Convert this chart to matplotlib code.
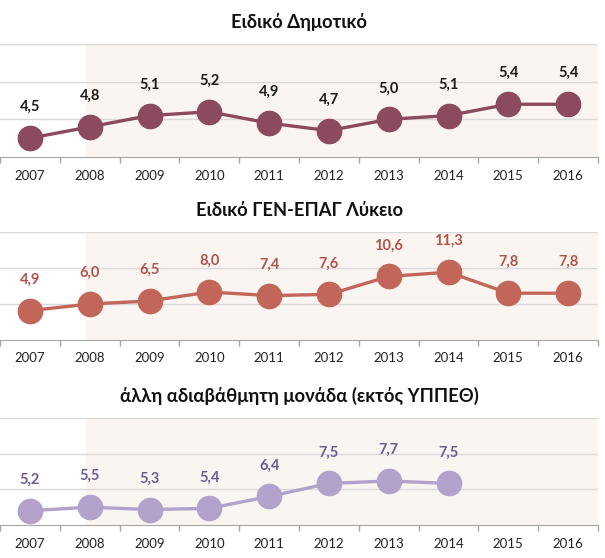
import numpy as np
import matplotlib.pyplot as plt

plt.rcParams['font.family'] = ['Lato', 'DejaVu Sans']

# Δεδομένα
years = ['2007', '2008', '2009', '2010', '2011', '2012', '2013', '2014', '2015', '2016']
dimotiko = [4.5, 4.8, 5.1, 5.2, 4.9, 4.7, 5.0, 5.1, 5.4, 5.4]
lykeio = [4.9, 6.0, 6.5, 8.0, 7.4, 7.6, 10.6, 11.3, 7.8, 7.8]
alli = [5.2, 5.5, 5.3, 5.4, 6.4, 7.5, 7.7, 7.5]

titles = ['Ειδικό Δημοτικό', 'Ειδικό ΓΕΝ-ΕΠΑΓ Λύκειο',
          'άλλη αδιαβάθμητη μονάδα (εκτός ΥΠΠΕΘ)']
series = [dimotiko, lykeio, alli]
line_colors = ['#8B4A5E', '#C3665A', '#B3A3CC']
label_colors = ['#1a1a1a', '#B0544A', '#6E5A92']
ylims = [(4, 7), (0, 18), (4, 13)]
yticks = [[4, 5, 6, 7], [0, 6, 12, 18], [4, 7, 10, 13]]

# θέσεις αξόνων σε pixel (top, bottom)
boxes = [(44, 157), (232, 340), (418, 525)]
W, H = 605, 558

fig = plt.figure(figsize=(W / 100, H / 100), dpi=100)

for k in range(3):
    top, bot = boxes[k]
    ax = fig.add_axes([0, 1 - bot / H, 598 / W, (bot - top) / H])
    vals = series[k]
    x = np.arange(len(vals))

    ax.set_xlim(-0.5, 9.5)
    ax.set_ylim(*ylims[k])

    # σκιασμένη περιοχή από 2008
    ax.axvspan(0.93, 9.5, color='#FBF5F1', zorder=0, lw=0)

    for yv in yticks[k][1:]:
        ax.axhline(yv, color='#D9D9D9', lw=1, zorder=1)

    ax.plot(x, vals, color=line_colors[k], lw=2.4, marker='o', ms=17.5,
            mec=line_colors[k], mfc=line_colors[k], zorder=3, clip_on=False)

    for xi, v in zip(x, vals):
        ax.annotate(('%.1f' % v).replace('.', ','), (xi, v), xytext=(0, 31),
                    textcoords='offset pixels', ha='center', va='center',
                    fontsize=10.5, fontweight='bold', color=label_colors[k])

    ax.set_xticks(np.arange(-0.5, 10, 1), minor=False)
    ax.set_xticklabels([])
    ax.set_xticks(np.arange(10), minor=True)
    ax.set_xticklabels(years, minor=True)
    ax.tick_params(axis='x', which='major', length=4, color='#A6A6A6', width=1)
    ax.tick_params(axis='x', which='minor', length=0, pad=9, labelsize=9.5, labelcolor='#222222')
    ax.set_yticks([])

    for s in ['left', 'right', 'top']:
        ax.spines[s].set_visible(False)
    ax.spines['bottom'].set_color('#A6A6A6')

    fig.text(0.495, 1 - (top - 22) / H, titles[k], ha='center', va='center',
             fontsize=13.2, fontweight='bold', color='#111111')

fig.savefig('out.png', dpi=100)
